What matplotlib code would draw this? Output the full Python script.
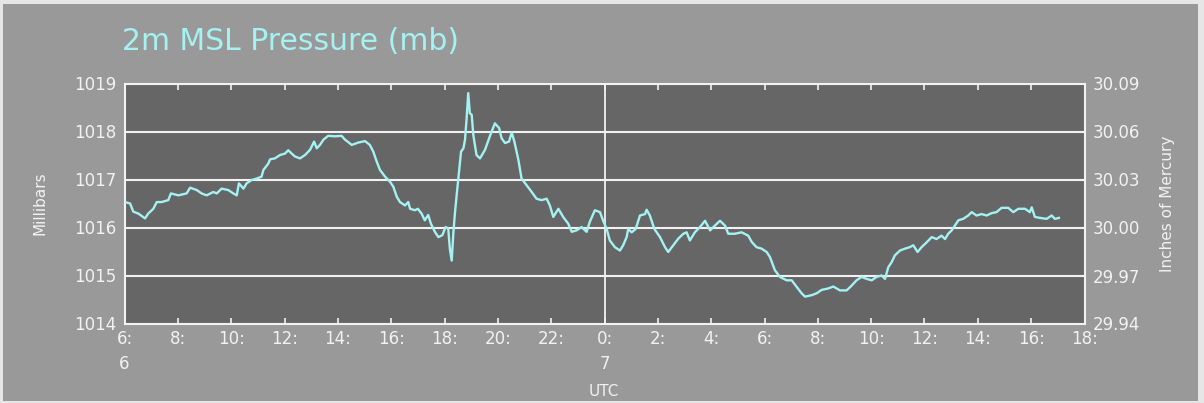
import numpy as np
import matplotlib.pyplot as plt
from matplotlib.patches import Rectangle

# hours after 06 UTC on the 6th, pressure in mb
hours = [0.02, 0.21, 0.33, 0.52, 0.77, 0.89, 1.08, 1.21, 1.39, 1.64, 1.74, 2.02,
         2.33, 2.46, 2.71, 2.89, 3.08, 3.33, 3.46, 3.64, 3.89, 4.08, 4.21, 4.29,
         4.46, 4.58, 4.77, 4.96, 5.14, 5.21, 5.39, 5.46, 5.64, 5.83, 6.02, 6.14,
         6.27, 6.39, 6.58, 6.77, 6.96, 7.11, 7.21, 7.33, 7.46, 7.64, 7.89, 8.14,
         8.27, 8.39, 8.52, 8.77, 9.02, 9.2, 9.33, 9.46, 9.58, 9.77, 9.96, 10.08,
         10.21, 10.33, 10.52, 10.64, 10.71, 10.89, 11.0, 11.14, 11.26, 11.39, 11.49,
         11.64, 11.77, 11.92, 12.04, 12.14, 12.2, 12.27, 12.33, 12.39, 12.45, 12.52,
         12.62, 12.71, 12.77, 12.83, 12.89, 12.95, 13.02, 13.08, 13.2, 13.33, 13.52,
         13.7, 13.89, 14.05, 14.14, 14.27, 14.42, 14.52, 14.62, 14.77, 14.89, 15.08,
         15.27, 15.45, 15.64, 15.83, 15.95, 16.08, 16.27, 16.45, 16.64, 16.77, 16.95,
         17.14, 17.33, 17.45, 17.64, 17.83, 17.95, 18.08, 18.2, 18.39, 18.58, 18.7,
         18.83, 18.89, 19.02, 19.17, 19.33, 19.52, 19.58, 19.7, 19.87, 20.08, 20.27,
         20.39, 20.58, 20.77, 20.96, 21.08, 21.2, 21.39, 21.58, 21.77, 21.96, 22.14,
         22.33, 22.52, 22.64, 22.89, 23.14, 23.39, 23.52, 23.7, 23.89, 24.08, 24.2,
         24.39, 24.58, 24.83, 25.02, 25.2, 25.39, 25.52, 25.77, 25.96, 26.14, 26.39,
         26.58, 26.83, 27.08, 27.27, 27.45, 27.64, 27.83, 28.02, 28.2, 28.39, 28.52,
         28.64, 28.77, 28.89, 29.08, 29.27, 29.45, 29.58, 29.74, 29.89, 30.08, 30.27,
         30.45, 30.64, 30.77, 30.89, 31.02, 31.14, 31.27, 31.45, 31.64, 31.77, 31.95,
         32.14, 32.33, 32.52, 32.7, 32.89, 33.14, 33.33, 33.52, 33.77, 33.95, 34.02,
         34.14, 34.33, 34.58, 34.77, 34.89, 35.04]
pressure = [1016.53, 1016.50, 1016.33, 1016.29, 1016.19, 1016.29, 1016.39, 1016.53,
            1016.53, 1016.57, 1016.71, 1016.67, 1016.71, 1016.83, 1016.78, 1016.71,
            1016.67, 1016.74, 1016.71, 1016.81, 1016.78, 1016.71, 1016.67, 1016.92,
            1016.81, 1016.92, 1016.99, 1017.02, 1017.06, 1017.20, 1017.33, 1017.42,
            1017.44, 1017.51, 1017.54, 1017.61, 1017.54, 1017.48, 1017.44, 1017.51,
            1017.62, 1017.79, 1017.65, 1017.72, 1017.83, 1017.91, 1017.90, 1017.91,
            1017.83, 1017.78, 1017.72, 1017.77, 1017.80, 1017.72, 1017.58, 1017.37,
            1017.20, 1017.06, 1016.95, 1016.85, 1016.64, 1016.53, 1016.46, 1016.53,
            1016.39, 1016.36, 1016.39, 1016.29, 1016.15, 1016.26, 1016.08, 1015.91,
            1015.80, 1015.84, 1016.01, 1015.98, 1015.56, 1015.31, 1015.87, 1016.29,
            1016.64, 1017.02, 1017.58, 1017.65, 1017.83, 1018.28, 1018.80, 1018.38,
            1018.35, 1017.93, 1017.51, 1017.44, 1017.62, 1017.90, 1018.17, 1018.07,
            1017.86, 1017.76, 1017.79, 1017.98, 1017.79, 1017.41, 1017.02, 1016.88,
            1016.74, 1016.60, 1016.57, 1016.60, 1016.46, 1016.22, 1016.39, 1016.22,
            1016.08, 1015.91, 1015.94, 1016.01, 1015.91, 1016.12, 1016.36, 1016.32,
            1016.14, 1015.97, 1015.73, 1015.59, 1015.52, 1015.63, 1015.80, 1015.97,
            1015.90, 1015.97, 1016.25, 1016.28, 1016.37, 1016.25, 1015.97, 1015.80,
            1015.59, 1015.49, 1015.63, 1015.77, 1015.87, 1015.90, 1015.73, 1015.90,
            1016.01, 1016.14, 1015.94, 1016.04, 1016.14, 1016.04, 1015.87, 1015.87,
            1015.90, 1015.83, 1015.70, 1015.59, 1015.56, 1015.49, 1015.39, 1015.11,
            1014.97, 1014.90, 1014.90, 1014.77, 1014.63, 1014.56, 1014.59, 1014.63,
            1014.70, 1014.73, 1014.77, 1014.69, 1014.69, 1014.79, 1014.90, 1014.97,
            1014.93, 1014.90, 1014.97, 1015.00, 1014.93, 1015.17, 1015.28, 1015.42,
            1015.52, 1015.56, 1015.59, 1015.63, 1015.49, 1015.59, 1015.69, 1015.80,
            1015.76, 1015.83, 1015.76, 1015.87, 1015.94, 1016.04, 1016.15, 1016.18,
            1016.25, 1016.32, 1016.25, 1016.28, 1016.25, 1016.30, 1016.32, 1016.41,
            1016.41, 1016.32, 1016.39, 1016.39, 1016.32, 1016.42, 1016.22, 1016.20,
            1016.18, 1016.25, 1016.18, 1016.20]

mb_ticks = [1014, 1015, 1016, 1017, 1018, 1019]
inhg_ticks = ["29.94", "29.97", "30.00", "30.03", "30.06", "30.09"]
hour_ticks = list(range(0, 37, 2))
hour_labels = ["6:\n6", "8:", "10:", "12:", "14:", "16:", "18:", "20:", "22:",
               "0:\n7", "2:", "4:", "6:", "8:", "10:", "12:", "14:", "16:", "18:"]

cyan = "#a4f2f2"
white = "#f2f2f2"

fig = plt.figure(figsize=(12.04, 4.03), dpi=100, facecolor="#e6e6e6")
fig.patches.append(Rectangle((3 / 1204, 2 / 403), 1195 / 1204, 397 / 403,
                             transform=fig.transFigure, facecolor="#999999",
                             edgecolor="none", zorder=-10))

ax = fig.add_axes([124.5 / 1204, 1 - 323.5 / 403, 960 / 1204, 240 / 403])
ax.set_facecolor("#666666")
ax.set_xlim(0, 36)
ax.set_ylim(1014, 1019)

# grid lines and day boundary
for v in mb_ticks[1:-1]:
    ax.axhline(v, color=white, lw=1.5, zorder=1)
ax.axvline(18, color=white, lw=1.3, zorder=1)

ax.plot(hours, pressure, color=cyan, lw=1.7, zorder=3)

for s in ax.spines.values():
    s.set_color(white)
    s.set_linewidth(1.5)

ax.set_yticks(mb_ticks)
ax.set_yticklabels([str(v) for v in mb_ticks])
ax.tick_params(axis="y", length=0, pad=6, labelsize=12, labelcolor=white)
ax.set_xticks(hour_ticks)
ax.set_xticklabels(hour_labels, linespacing=1.45, va="top")
ax.tick_params(axis="x", direction="in", length=4, width=1.2, color=white,
               top=True, labelsize=12, labelcolor=white, pad=5)
ax.set_ylabel("Millibars", color=white, fontsize=11, labelpad=19)

ax2 = ax.twinx()
ax2.set_ylim(29.94, 30.09)
ax2.set_yticks([float(t) for t in inhg_ticks])
ax2.set_yticklabels(inhg_ticks)
ax2.tick_params(axis="y", length=0, pad=6, labelsize=12, labelcolor=white)
ax2.set_ylabel("Inches of Mercury", color=white, fontsize=11, labelpad=14)
for s in ax2.spines.values():
    s.set_visible(False)

fig.text(122 / 1204, 1 - 42 / 403, "2m MSL Pressure (mb)", color=cyan,
         fontsize=21.5, ha="left", va="center")
fig.text(604 / 1204, 1 - 392 / 403, "UTC", color=white, fontsize=11,
         ha="center", va="center")

fig.savefig("out.png", dpi=100, facecolor=fig.get_facecolor())
